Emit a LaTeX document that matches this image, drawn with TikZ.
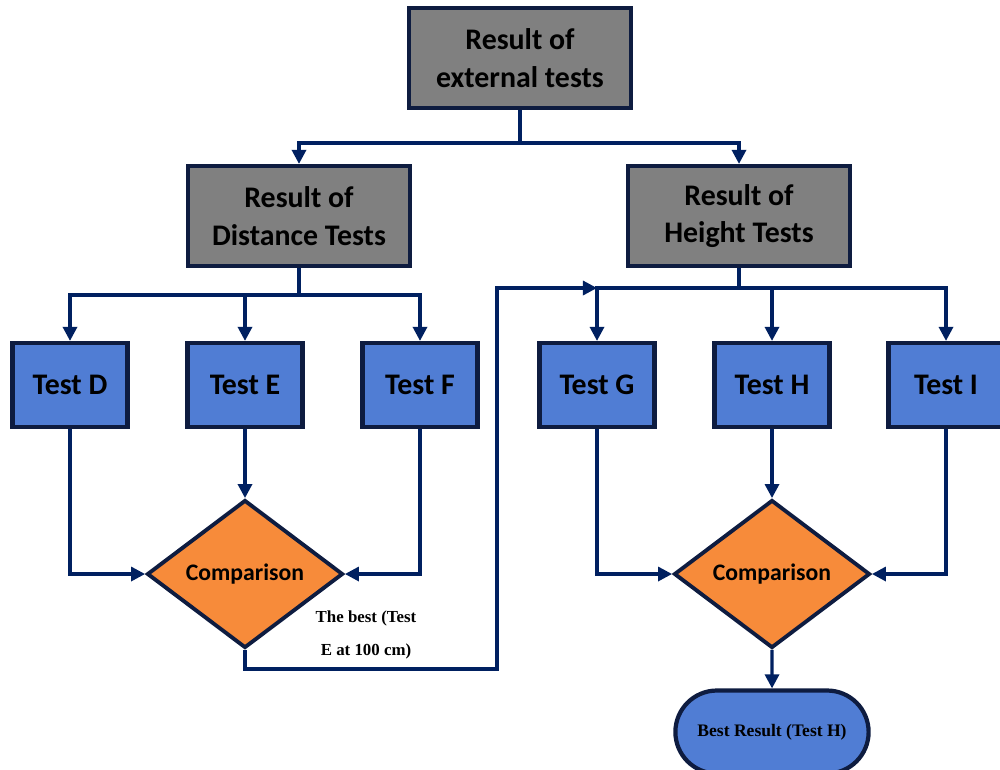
\documentclass[tikz,border=0pt]{standalone}
\usepackage{fontspec}
\setmainfont{Liberation Serif}
\newfontfamily\calibri{Carlito}
\usetikzlibrary{arrows.meta,shapes.geometric,shapes.misc}
\definecolor{navy}{RGB}{0,32,96}
\definecolor{rim}{RGB}{14,28,64}
\definecolor{boxgray}{RGB}{128,128,128}
\definecolor{boxblue}{RGB}{80,125,212}
\definecolor{cmporange}{RGB}{247,139,58}

\begin{document}
\begin{tikzpicture}[
  x=0.02cm,y=-0.02cm,
  >={Triangle[width=8pt,length=8pt]},
  ln/.style={draw=navy,line width=1.8pt},
  res/.style={rectangle,draw=rim,line width=2.4pt,fill=boxgray,minimum width=4.44cm,minimum height=2cm,align=center,font=\calibri\bfseries\fontsize{17}{21.5}\selectfont},
  tst/.style={rectangle,draw=rim,line width=2.4pt,fill=boxblue,minimum width=2.3cm,minimum height=1.68cm,font=\calibri\bfseries\fontsize{17}{20}\selectfont},
  cmp/.style={diamond,draw=rim,line width=2.2pt,fill=cmporange,minimum width=3.92cm,minimum height=2.96cm,inner sep=0pt,font=\calibri\bfseries\fontsize{13.5}{16}\selectfont},
  term/.style={rounded rectangle,draw=rim,line width=2.4pt,fill=boxblue,minimum width=4.1cm,minimum height=1.66cm,font=\bfseries\fontsize{10}{12}\selectfont}
]
  \useasboundingbox (0,0) rectangle (1000,769);

  \node[res] (ext) at (520,58) {Result of\\external tests};
  \node[res] (dist) at (299,216) {Result of\\Distance Tests};
  \node[res] (hgt) at (739,216) {Result of\\Height Tests};

  \node[tst] (tD) at (70,385) {Test D};
  \node[tst] (tE) at (245,385) {Test E};
  \node[tst] (tF) at (420,385) {Test F};
  \node[tst] (tG) at (597,385) {Test G};
  \node[tst] (tH) at (772,385) {Test H};
  \node[tst] (tI) at (946,385) {Test I};

  \node[cmp] (cmpL) at (245,574) {Comparison};
  \node[cmp] (cmpR) at (772,574) {Comparison};
  \node[term] (best) at (772,732) {Best Result (Test H)};
  \node[font=\bfseries\fontsize{9.6}{19}\selectfont,align=center] (lbl) at (366,635) {The best (Test\\E at 100 cm)};

  \coordinate (j0) at (520,143);
  \coordinate (j1) at (299,295);
  \coordinate (j2) at (739,288);
  \coordinate (j3) at (tG.north |- j2);
  \coordinate (b1) at (245,669);
  \coordinate (b2) at (497,669);
  \coordinate (b3) at (497,288);

  \draw[ln] (ext) -- (j0);
  \draw[ln,->] (j0) -| (dist.north); \draw[ln,->] (j0) -| (hgt.north);
  \draw[ln] (dist) -- (j1);
  \draw[ln,->] (j1) -| (tD.north); \draw[ln,->] (j1) -| (tE.north); \draw[ln,->] (j1) -| (tF.north);
  \draw[ln] (hgt) -- (j2);
  \draw[ln,->] (j2) -| (tG.north); \draw[ln,->] (j2) -| (tH.north); \draw[ln,->] (j2) -| (tI.north);

  \draw[ln,->] (tD) |- (cmpL); \draw[ln,->] (tE) -- (cmpL); \draw[ln,->] (tF) |- (cmpL);
  \draw[ln,->] (tG) |- (cmpR); \draw[ln,->] (tH) -- (cmpR); \draw[ln,->] (tI) |- (cmpR);

  \draw[ln,->] (cmpL) -- (b1) -- (b2) -- (b3) -- (j3);
  \draw[ln,->] (cmpR) -- (best);
\end{tikzpicture}
\end{document}
